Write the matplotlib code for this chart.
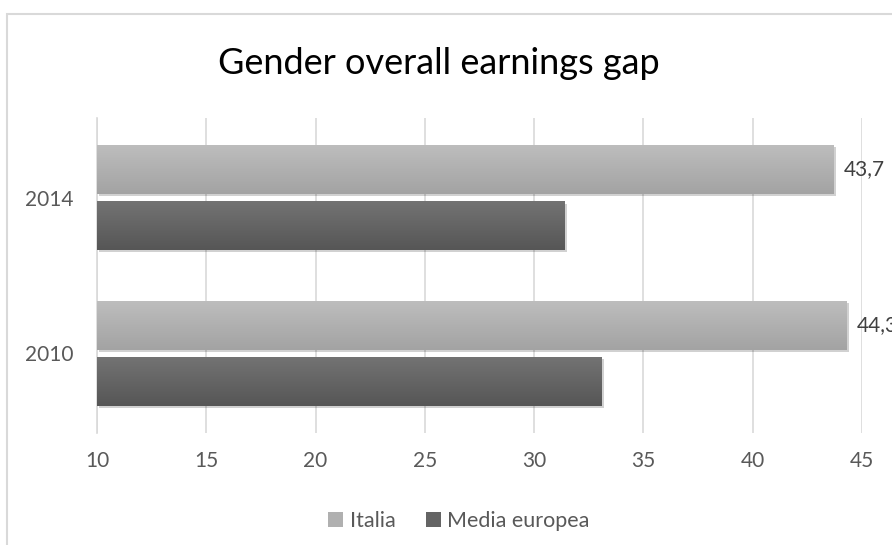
import matplotlib
matplotlib.use("Agg")
import matplotlib.pyplot as plt
import matplotlib.patheffects as pe
from matplotlib.patches import Rectangle, Patch
import numpy as np

# Data
years = ["2010", "2014"]
italia = [44.3, 43.7]
media_europea = [33.1, 31.4]
x_ticks = [10, 15, 20, 25, 30, 35, 40, 45]

plt.rcParams['font.family'] = ['Lato', 'DejaVu Sans']

W, H = 892, 545
fig = plt.figure(figsize=(W / 100, H / 100), dpi=100, facecolor="white")
ax = fig.add_axes([97 / W, (H - 433) / H, 765 / W, 315 / H])

# chart frame
fig.patches.append(Rectangle((7 / W, -0.1), 1.2, 1 - 14 / H + 0.1, transform=fig.transFigure,
                             fill=False, edgecolor="#d9d9d9", linewidth=1.5, zorder=0))

y = np.arange(len(years))
h = 0.31
off = 0.18
shadow = [pe.SimplePatchShadow(offset=(1.5, -1.5), shadow_rgbFace="black", alpha=0.18), pe.Normal()]

bars_it = ax.barh(y + off, np.array(italia) - 10, left=10, height=h, color="#b0b0b0", zorder=3,
                  path_effects=shadow)
bars_me = ax.barh(y - off, np.array(media_europea) - 10, left=10, height=h, color="#646464", zorder=3,
                  path_effects=shadow)

# vertical gradient on each bar
def shade(bars, top, bottom):
    grad = np.linspace(0, 1, 64).reshape(-1, 1)
    c0 = np.array(matplotlib.colors.to_rgb(top))
    c1 = np.array(matplotlib.colors.to_rgb(bottom))
    img = c0 * (1 - grad[..., None]) + c1 * grad[..., None]
    for b in bars:
        x0, y0, bw, bh = b.get_x(), b.get_y(), b.get_width(), b.get_height()
        im = ax.imshow(img, extent=[x0, x0 + bw, y0, y0 + bh], origin="upper",
                       aspect="auto", zorder=4, interpolation="bilinear")
        im.set_clip_path(b)

shade(bars_it, "#bdbdbd", "#a3a3a3")
shade(bars_me, "#737373", "#565656")

ax.set_xlim(10, 45)
ax.set_ylim(-0.51, 1.51)
ax.set_xticks(x_ticks)
ax.set_yticks(y)
ax.set_yticklabels(years)
ax.tick_params(length=0, labelsize=15, colors="#595959")
ax.tick_params(axis="x", pad=13)
ax.tick_params(axis="y", pad=17)
ax.grid(axis="x", color="#d9d9d9", linewidth=1.2, zorder=0)
for s in ["top", "right", "bottom"]:
    ax.spines[s].set_visible(False)
ax.spines["left"].set_color("#d9d9d9")
ax.spines["left"].set_linewidth(1.2)

# data labels for Italia
for b, v in zip(bars_it, italia):
    ax.annotate(f"{v:.1f}".replace(".", ","), (b.get_x() + b.get_width(), b.get_y() + b.get_height() / 2),
                xytext=(7, 0), textcoords="offset points", va="center", ha="left",
                fontsize=15, color="#404040", clip_on=False, annotation_clip=False)

fig.text(439 / W, 1 - 64 / H, "Gender overall earnings gap", ha="center", va="center",
         fontsize=26, color="black")

handles = [Patch(facecolor="#b0b0b0", label="Italia"), Patch(facecolor="#646464", label="Media europea")]
fig.legend(handles=handles, loc="center", bbox_to_anchor=(459 / W, 1 - 521 / H), ncol=2, frameon=False,
           fontsize=15.5, labelcolor="#595959", handlelength=0.7, handleheight=0.7, handletextpad=0.3,
           columnspacing=1.4)

fig.savefig("out.png", dpi=100, facecolor="white")
